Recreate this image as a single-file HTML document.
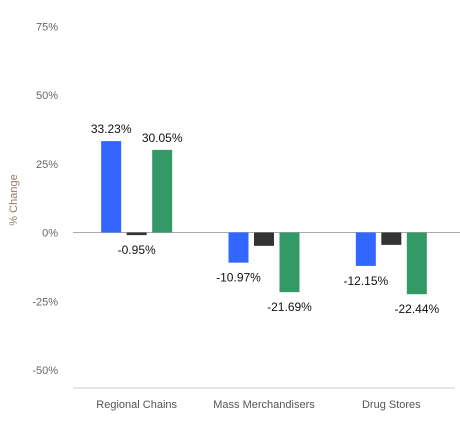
<!DOCTYPE html>
<html><head><meta charset="utf-8"><style>
body{margin:0;background:#fff;font-family:"Liberation Sans",sans-serif}
svg text{font-family:"Liberation Sans",sans-serif}
</style></head><body>
<svg width="460" height="437" id="chart">
<text x="17" y="200" transform="rotate(-90 17 200)" text-anchor="middle" font-size="11" fill="#9a7a6a">% Change</text>
<line x1="73" y1="388" x2="455" y2="388" stroke="#ccc"/>
</svg>
<script>
const categories=["Regional Chains","Mass Merchandisers","Drug Stores"];
const seriesA=[33.23,-10.97,-12.15];
const seriesB=[-0.95,-4.85,-4.5];
const seriesC=[30.05,-21.69,-22.44];
const showLabelB=[true,false,false];
const yTicks=[75,50,25,0,-25,-50];
const svg=document.getElementById('chart');
const NS='http://www.w3.org/2000/svg';
const y=v=>232.5-v*2.75;
const x0=73,bw=127.33;
function mk(t,a){const e=document.createElementNS(NS,t);for(const k in a)e.setAttribute(k,a[k]);svg.appendChild(e);return e;}
yTicks.forEach(t=>{const e=mk('text',{x:58,y:y(t)+4,'text-anchor':'end','font-size':11,fill:'#666'});e.textContent=t+'%';

});
const zl=mk('line',{x1:73,x2:460,y1:y(0),y2:y(0),stroke:'#aaa'});


const series=[[seriesA,'#3366ff','series-a'],[seriesB,'#333333','series-b'],[seriesC,'#339966','series-c']];
categories.forEach((c,i)=>{
 const cx=x0+bw*(i+0.5);
 const t=mk('text',{x:cx,y:408,'text-anchor':'middle','font-size':11,fill:'#555'});t.textContent=c;
 
 
 series.forEach(([vals,col,nm],j)=>{
  const v=vals[i];const bx=cx-35.5+j*25.5;
  const top=Math.min(y(v),y(0)),h=Math.abs(y(v)-y(0));
  const r=mk('rect',{x:bx,y:top,width:20,height:Math.max(h,1.5),fill:col});
  
  
  if(j===1&&!showLabelB[i])return;
  const lbl=mk('text',{x:bx+10,y:v>=0?y(v)-8:y(v)+19,'text-anchor':'middle','font-size':12,fill:'#111'});
  lbl.textContent=v.toFixed(2)+'%';
  
  
 });
});
</script>
</body></html>
